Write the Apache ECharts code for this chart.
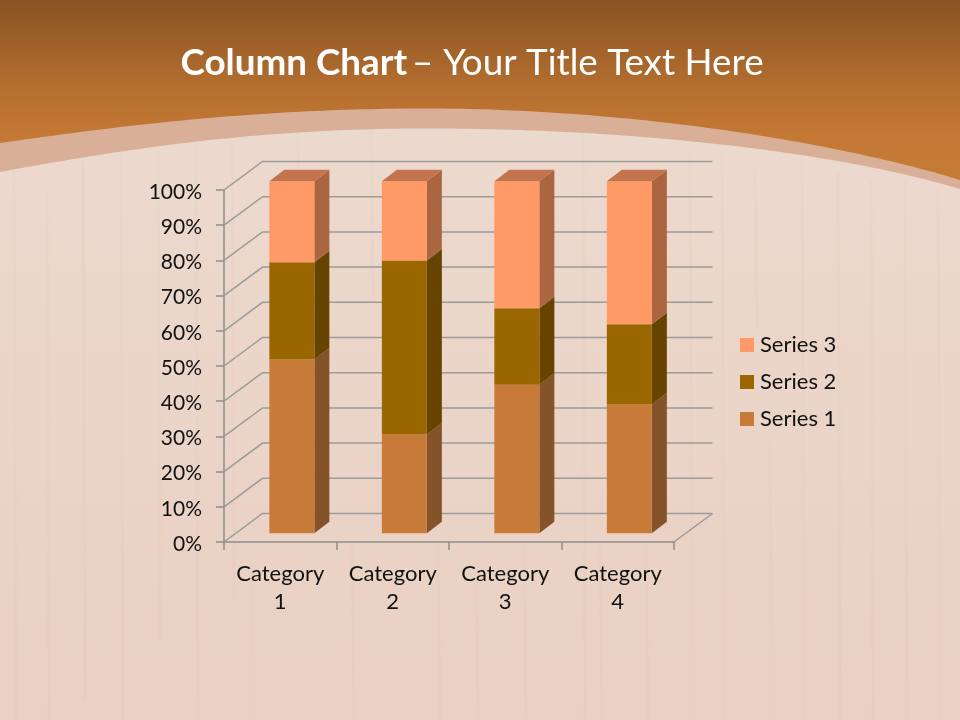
<!DOCTYPE html>
<html>
<head>
<meta charset="utf-8">
<script src="https://cdn.jsdelivr.net/npm/echarts@6/dist/echarts.min.js"></script>
<style>html,body{margin:0;padding:0;background:#ecd8cc}#c{width:960px;height:720px}</style>
</head>
<body>
<div id="c"></div>
<script>
const categories = ['Category 1', 'Category 2', 'Category 3', 'Category 4'];
const series1 = [49.4, 28.1, 42.2, 36.6];
const series2 = [27.6, 49.4, 21.7, 22.8];
const series3 = [23.0, 22.5, 36.1, 40.6];
const yTicks = [0, 10, 20, 30, 40, 50, 60, 70, 80, 90, 100];

const WALL = [38.5, -28.5], BAR_OFF = [11.6, -8.7], BAR_D = [15, -11.5];
const GRID_LINE = '#9b9b98', AXIS_LINE = '#8e8e8a', TEXT = '#111111';

function pts(a, off) { return [a[0] + off[0], a[1] + off[1]]; }

function wallItem(params, api) {
  const v = api.value(0);
  const left = api.coord([0, v]);
  const cw = api.size([1, 0])[0];
  const fl = [left[0] - cw / 2, left[1]];
  const fr = [left[0] + cw * 3.5, left[1]];
  const bl = pts(fl, WALL), br = pts(fr, WALL);
  const children = [{
    type: 'polyline',
    shape: { points: [fl, bl, br] },
    style: { stroke: GRID_LINE, lineWidth: 1.5, fill: null }
  }];
  if (v === 0) {
    children.push({
      type: 'line',
      shape: { x1: fr[0], y1: fr[1], x2: br[0], y2: br[1] },
      style: { stroke: GRID_LINE, lineWidth: 1.5 }
    });
  }
  return { type: 'group', children };
}

function barItem(colors, withTop) {
  return function (params, api) {
    const c = api.value(0), lo = api.value(1), hi = api.value(2);
    const w = api.size([1, 0])[0] * 0.4;
    const a = pts(api.coord([c, lo]), BAR_OFF);
    const b = pts(api.coord([c, hi]), BAR_OFF);
    const x0 = a[0] - w / 2, x1 = a[0] + w / 2;
    const children = [
      { type: 'polygon', shape: { points: [[x1, a[1]], [x1, b[1]], pts([x1, b[1]], BAR_D), pts([x1, a[1]], BAR_D)] }, style: { fill: colors[1] } },
      { type: 'rect', shape: { x: x0, y: b[1], width: w, height: a[1] - b[1] }, style: { fill: colors[0] } }
    ];
    if (withTop) {
      children.push({ type: 'polygon', shape: { points: [[x0, b[1]], [x1, b[1]], pts([x1, b[1]], BAR_D), pts([x0, b[1]], BAR_D)] }, style: { fill: colors[2] } });
    }
    return { type: 'group', children };
  };
}

function stackRows(values, below) {
  return values.map((v, i) => [i, below[i], below[i] + v]);
}
const base0 = categories.map(() => 0);
const top1 = series1.map(v => v);
const top2 = series1.map((v, i) => v + series2[i]);

function bezier(p0, p1, p2, p3) {
  const out = [];
  for (let i = 0; i <= 60; i++) {
    const t = i / 60, u = 1 - t;
    out.push([
      u*u*u*p0[0] + 3*u*u*t*p1[0] + 3*u*t*t*p2[0] + t*t*t*p3[0],
      u*u*u*p0[1] + 3*u*u*t*p1[1] + 3*u*t*t*p2[1] + t*t*t*p3[1]
    ]);
  }
  return out;
}
function capShape(y0, c1, c2, mid, c3, c4, y1) {
  return [[0, 0], [960, 0]]
    .concat(bezier([960, y1], c4, c3, mid))
    .concat(bezier(mid, c2, c1, [0, y0]));
}

const streaks = [
  [14,170,720,.025],[47,190,720,.02],[83,160,700,.03],[121,150,720,.02],[158,140,640,.025],[196,140,720,.02],
  [232,130,600,.02],[251,560,720,.025],[298,130,320,.02],[352,540,720,.025],[371,130,300,.02],[438,540,720,.02],
  [476,560,720,.025],[524,540,720,.02],[583,130,720,.02],[600,540,720,.025],[646,540,720,.02],
  [690,150,720,.025],[722,150,720,.02],[755,170,330,.025],[770,440,720,.025],[802,160,720,.02],[838,170,720,.03],
  [871,180,720,.02],[905,180,720,.025],[938,190,720,.02]
];

const chart = echarts.init(document.getElementById('c'), null, { renderer: 'canvas' });
chart.setOption({
  animation: false,
  backgroundColor: {
    type: 'linear', x: 0, y: 0, x2: 0, y2: 1,
    colorStops: [{ offset: 0, color: '#eddbd0' }, { offset: 1, color: '#e9d0c2' }]
  },
  graphic: {
    z: -1,
    elements: [
      ...streaks.map(s => ({
        type: 'line', silent: true,
        shape: { x1: s[0], y1: s[1], x2: s[0] + 2, y2: s[2] },
        style: { stroke: '#a5765a', opacity: s[3], lineWidth: 3 }
      })),
      {
        type: 'polygon', silent: true,
        shape: { points: capShape(172, [120, 150], [250, 129], [420, 128.5], [620, 128], [830, 150], 189) },
        style: { fill: '#d9af98' }
      },
      {
        type: 'polygon', silent: true,
        shape: { points: capShape(143, [120, 126], [250, 109], [420, 108.5], [620, 108], [830, 140], 180) },
        style: {
          fill: {
            type: 'linear', global: true, x: 0, y: 0, x2: 0, y2: 180,
            colorStops: [
              { offset: 0, color: '#875423' },
              { offset: 0.5, color: '#b66f30' },
              { offset: 0.75, color: '#c37934' },
              { offset: 1, color: '#c67b35' }
            ]
          }
        }
      }
    ]
  },
  title: {
    left: 467, top: 40, textAlign: 'center',
    text: '{b|Column Chart} {n|– Your Title Text Here}',
    textStyle: {
      rich: {
        b: { fontFamily: 'Lato', fontSize: 36.8, fontWeight: 'bold', color: '#ffffff' },
        n: { fontFamily: 'Lato', fontSize: 36.8, fontWeight: 'normal', color: '#ffffff' }
      }
    }
  },
  legend: {
    orient: 'vertical', left: 735, top: 329,
    itemWidth: 14, itemHeight: 14, itemGap: 15,
    icon: 'rect',
    data: ['Series 3', 'Series 2', 'Series 1'],
    textStyle: { fontFamily: 'Lato', fontSize: 22, color: TEXT, padding: [0, 0, 0, 1] }
  },
  grid: { left: 224, right: 286, top: 190, bottom: 178 },
  xAxis: {
    type: 'category', data: categories,
    axisLine: { lineStyle: { color: AXIS_LINE, width: 1.5 } },
    axisTick: { show: true, alignWithLabel: false, length: 8, lineStyle: { color: AXIS_LINE, width: 1.5 } },
    axisLabel: {
      fontFamily: 'Lato', fontSize: 22, color: TEXT, lineHeight: 28, margin: 18, interval: 0,
      formatter: v => v.replace(' ', '\n')
    }
  },
  yAxis: {
    type: 'value', min: 0, max: 100, interval: 10,
    axisLine: { show: true, lineStyle: { color: AXIS_LINE, width: 1.5 } },
    axisTick: { show: true, length: 8, lineStyle: { color: AXIS_LINE, width: 1.5 } },
    splitLine: { show: false },
    axisLabel: {
      margin: 22,
      formatter: v => '{p|' + v + '%}',
      rich: { p: { fontFamily: 'Lato', fontSize: 21, color: TEXT, padding: [4, 0, 0, 0] } }
    }
  },
  series: [
    {
      type: 'custom', name: 'wall', renderItem: wallItem, silent: true, z: 1,
      coordinateSystem: 'cartesian2d', encode: { y: 0 },
      data: yTicks.map(v => [v])
    },
    {
      type: 'custom', name: 'Series 1', renderItem: barItem(['#c87b38', '#855329', '#b06c3c'], false), z: 2,
      itemStyle: { color: '#c87b38' }, encode: { x: 0, y: [1, 2] },
      data: stackRows(series1, base0)
    },
    {
      type: 'custom', name: 'Series 2', renderItem: barItem(['#996600', '#664400', '#7a5200'], false), z: 3,
      itemStyle: { color: '#996600' }, encode: { x: 0, y: [1, 2] },
      data: stackRows(series2, top1)
    },
    {
      type: 'custom', name: 'Series 3', renderItem: barItem(['#ff9966', '#a96640', '#c2744c'], true), z: 4,
      itemStyle: { color: '#ff9966' }, encode: { x: 0, y: [1, 2] },
      data: stackRows(series3, top2)
    }
  ]
});
</script>
</body>
</html>
